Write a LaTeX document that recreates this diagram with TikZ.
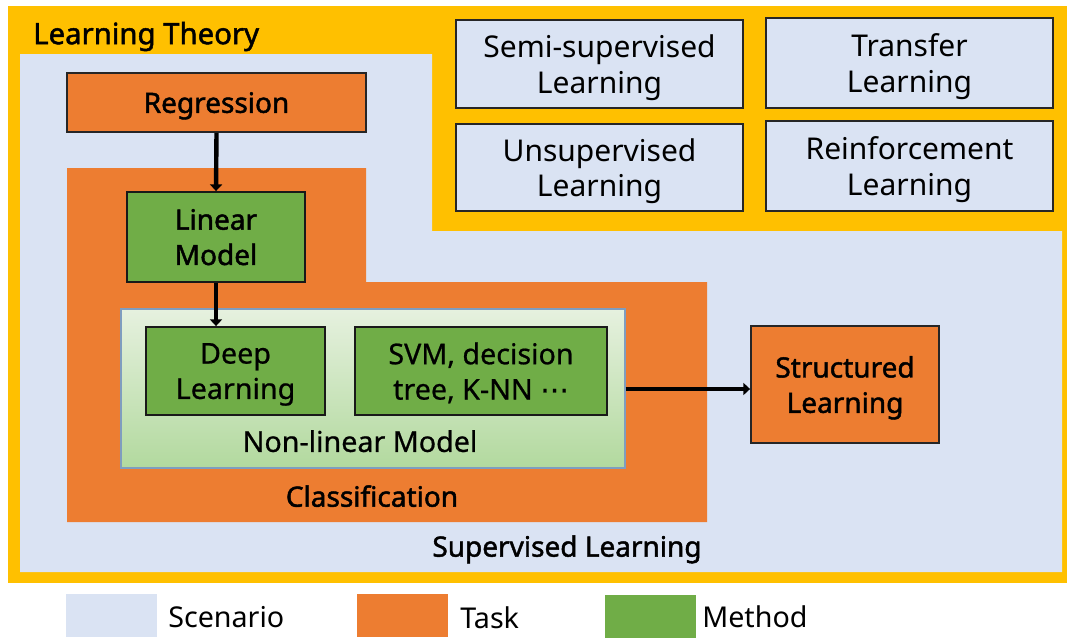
\documentclass[tikz,border=0pt]{standalone}
\usepackage{fontspec}
\setmainfont{Noto Sans}
\newfontfamily\medfont[FakeBold=1.6]{Noto Sans}
\newfontfamily\semifont[FakeBold=0.7]{Noto Sans}
\newfontfamily\dejavufont[FakeBold=0.7]{DejaVu Sans}
\usetikzlibrary{arrows.meta}
\definecolor{ylw}{HTML}{FFC000}
\definecolor{scen}{HTML}{DAE3F3}
\definecolor{tsk}{HTML}{ED7D31}
\definecolor{mth}{HTML}{70AD47}
\definecolor{nltop}{HTML}{E6F1DF}
\definecolor{nlbot}{HTML}{B2D99E}
\definecolor{nlborder}{HTML}{7F9DBF}
\begin{document}
\begin{tikzpicture}[x=0.75pt,y=-0.75pt,
  txt/.style={font=\semifont\fontsize{21.5}{26.5}\selectfont, align=center, inner sep=0pt, text depth=0pt},
  txtb/.style={txt, font=\medfont\fontsize{21}{26.5}\selectfont},
  taskbox/.style={txtb, draw=black!85, line width=1.4pt, fill=tsk},
  methbox/.style={txt, draw=black!90, line width=1.4pt, fill=mth},
  scenbox/.style={txt, font=\fontsize{22.5}{26.5}\selectfont, draw=black!85, line width=1.2pt, fill=scen},
  conn/.style={line width=3.3pt, -{Triangle[length=5pt,width=9pt]}},
  legbox/.style={inner sep=0pt, minimum width=68pt, minimum height=32pt, anchor=north west},
  legtxt/.style={font=\fontsize{21.5}{24}\selectfont, anchor=west, inner sep=0pt, text depth=0pt}]
\useasboundingbox (0,0) rectangle (1067,637);
% Learning theory (yellow)
\fill[ylw] (8,6) rectangle (1067,583);
% Scenario region
\fill[scen] (20,54) -| (432,231) -| (1062,572) -| cycle;
% Classification task region
\fill[tsk] (67,168) -| (366,282) -| (707,522) -| cycle;

\node[txtb, font=\medfont\fontsize{22}{26.5}\selectfont, anchor=west] (lt) at (33,33) {Learning Theory};
\node[txtb] (sl) at (567,546) {Supervised Learning};
\node[txtb] (cls) at (372,496) {Classification};

% top right scenarios
\node[scenbox, minimum width=287*0.75pt, minimum height=88*0.75pt] (semi) at (599.5,64) {Semi-supervised\\Learning};
\node[scenbox, minimum width=287*0.75pt, minimum height=90*0.75pt] (trans) at (909.5,63) {Transfer\\Learning};
\node[scenbox, minimum width=287*0.75pt, minimum height=87*0.75pt] (unsup) at (599.5,167.5) {Unsupervised\\Learning};
\node[scenbox, minimum width=287*0.75pt, minimum height=90*0.75pt] (reinf) at (909.5,166) {Reinforcement\\Learning};

% tasks and methods
\node[taskbox, minimum width=299*0.75pt, minimum height=59*0.75pt] (reg) at (216.5,102.5) {Regression};
\node[methbox, font=\medfont\fontsize{21}{26.5}\selectfont, minimum width=178*0.75pt, minimum height=90*0.75pt] (lin) at (216,237) {Linear\\Model};
\node[draw=nlborder, line width=0.9pt, top color=nltop, bottom color=nlbot, minimum width=504*0.75pt, minimum height=159*0.75pt, inner sep=0pt] (nl) at (373,388.5) {};
\node[txt] (nltxt) at (360,441) {Non-linear Model};
\node[methbox, minimum width=179*0.75pt, minimum height=88*0.75pt] (deep) at (235.5,371) {Deep\\Learning};
\node[methbox, minimum width=252*0.75pt, minimum height=88*0.75pt] (svm) at (481,371) {SVM, decision\\tree, K-NN {\dejavufont ⋯}};
\node[taskbox, minimum width=188*0.75pt, minimum height=117*0.75pt] (str) at (845,384.5) {Structured\\Learning};

% connectors
\draw[conn] (reg.south) -- (lin.north);
\draw[conn] (lin.south) -- (lin.south |- deep.north);
\draw[conn] (nl.east |- 0,389) -- (str.west |- 0,389);

% legend
\node[legbox, fill=scen] (lg1) at (66,594) {};
\node[legtxt] (lt1) at (168,617) {Scenario};
\node[legbox, fill=tsk] (lg2) at (357,594) {};
\node[legtxt] (lt2) at (460,618) {Task};
\node[legbox, fill=mth] (lg3) at (605,595) {};
\node[legtxt] (lt3) at (702,617) {Method};
\end{tikzpicture}
\end{document}
